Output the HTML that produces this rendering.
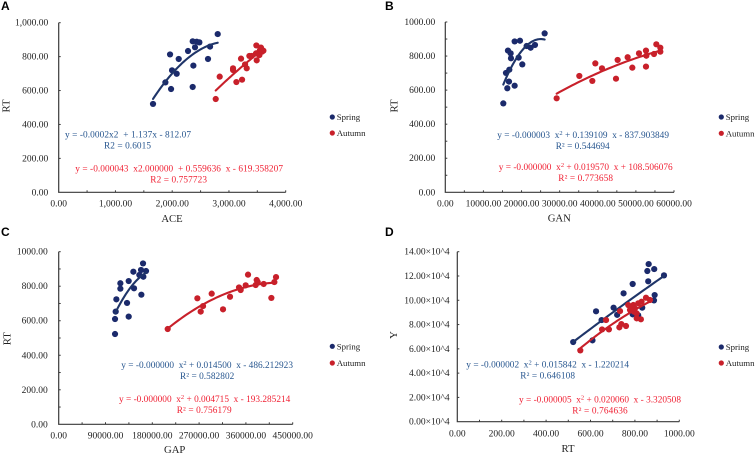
<!DOCTYPE html>
<html lang="en">
<head>
<meta charset="utf-8">
<title>Spring and Autumn RT regression panels</title>
<style>
html,body{margin:0;padding:0;background:#fff;width:755px;height:454px;overflow:hidden}
svg{display:block;filter:blur(0.3px)}
text{font-family:"Liberation Serif",serif;white-space:pre}
.tick{font-size:9.5px;fill:#222}
.title{font-size:10.7px;fill:#222}
.legend{font-size:8.8px;fill:#222}
.blue{font-size:9.3px;fill:#27568f}
.red{font-size:9.3px;fill:#f01f32}
.letter{font-family:"Liberation Sans",sans-serif;font-size:12px;font-weight:bold;fill:#000}
</style>
</head>
<body>
<svg id="figure" width="755" height="454" viewBox="0 0 755 454" xmlns="http://www.w3.org/2000/svg">
<rect width="755" height="454" fill="#fff"/>

<text class="letter" x="1" y="10">A</text>
<text class="letter" x="385" y="10">B</text>
<text class="letter" x="1" y="236">C</text>
<text class="letter" x="385" y="236">D</text>

<text class="title" x="172" y="222" text-anchor="middle">ACE</text>
<text class="title" transform="translate(9.5,106) rotate(-90)" text-anchor="middle">RT</text>
<text class="title" x="559.3" y="221.7" text-anchor="middle">GAN</text>
<text class="title" transform="translate(397.5,106) rotate(-90)" text-anchor="middle">RT</text>
<text class="title" x="174.7" y="453" text-anchor="middle">GAP</text>
<text class="title" transform="translate(10.5,338.7) rotate(-90)" text-anchor="middle">RT</text>
<text class="title" x="568" y="452" text-anchor="middle">RT</text>
<text class="title" transform="translate(397,335) rotate(-90)" text-anchor="middle">Y</text>

<text class="blue" x="65" y="137.3" textLength="126">y = -0.0002x2  + 1.137x - 812.07</text>
<text class="blue" x="104" y="148.3" textLength="47">R2 = 0.6015</text>
<text class="red" x="75.3" y="171.7" textLength="207.7">y = -0.000043  x2.000000  + 0.559636  x - 619.358207</text>
<text class="red" x="150.3" y="182.3" textLength="56.7">R2 = 0.757723</text>

<text class="blue" x="497.3" y="138" textLength="171.7">y = -0.000003  x<tspan dy="-3" font-size="6.5">2</tspan><tspan dy="3"> + 0.139109  x - 837.903849</tspan></text>
<text class="blue" x="555.7" y="149" textLength="54">R² = 0.544694</text>
<text class="red" x="498.7" y="170" textLength="174">y = -0.000000  x<tspan dy="-3" font-size="6.5">2</tspan><tspan dy="3"> + 0.019570  x + 108.506076</tspan></text>
<text class="red" x="558.3" y="181" textLength="54.7">R² = 0.773658</text>

<text class="blue" x="121.3" y="368" textLength="171.7">y = -0.000000  x<tspan dy="-3" font-size="6.5">2</tspan><tspan dy="3"> + 0.014500  x - 486.212923</tspan></text>
<text class="blue" x="180" y="379" textLength="54.3">R² = 0.582802</text>
<text class="red" x="119" y="402" textLength="171.3">y = -0.000000  x<tspan dy="-3" font-size="6.5">2</tspan><tspan dy="3"> + 0.004715  x - 193.285214</tspan></text>
<text class="red" x="176.7" y="413" textLength="55">R² = 0.756179</text>

<text class="blue" x="466.3" y="367.7" textLength="162.7">y = -0.000002  x<tspan dy="-3" font-size="6.5">2</tspan><tspan dy="3"> + 0.015842  x - 1.220214</tspan></text>
<text class="blue" x="520.3" y="378.7" textLength="54.7">R² = 0.646108</text>
<text class="red" x="519" y="402.7" textLength="162">y = -0.000005  x<tspan dy="-3" font-size="6.5">2</tspan><tspan dy="3"> + 0.020060  x - 3.320508</tspan></text>
<text class="red" x="572.3" y="413.7" textLength="55.4">R² = 0.764636</text>

<g>
<circle cx="332.3" cy="117" r="2.6" fill="#1b2a6b"/>
<text class="legend" x="336.7" y="120">Spring</text>
<circle cx="332.3" cy="133" r="2.6" fill="#c8202a"/>
<text class="legend" x="336.7" y="136">Autumn</text>
</g>
<g>
<circle cx="721.3" cy="117" r="2.6" fill="#1b2a6b"/>
<text class="legend" x="725.7" y="120">Spring</text>
<circle cx="721.3" cy="133.3" r="2.6" fill="#c8202a"/>
<text class="legend" x="725.7" y="136.3">Autumn</text>
</g>
<g>
<circle cx="332.3" cy="346.3" r="2.6" fill="#1b2a6b"/>
<text class="legend" x="336.7" y="349.3">Spring</text>
<circle cx="332.3" cy="363" r="2.6" fill="#c8202a"/>
<text class="legend" x="336.7" y="366">Autumn</text>
</g>
<g>
<circle cx="721.3" cy="347" r="2.6" fill="#1b2a6b"/>
<text class="legend" x="725.7" y="350">Spring</text>
<circle cx="721.3" cy="363" r="2.6" fill="#c8202a"/>
<text class="legend" x="725.7" y="366">Autumn</text>
</g>
</svg>

<script>
// Panel A: RT vs ACE
const aceXMajor = [0, 1000, 2000, 3000, 4000];
const aceXLabels = ["0.00", "1,000.00", "2,000.00", "3,000.00", "4,000.00"];
const aceYMajor = [0, 200, 400, 600, 800, 1000];
const aceYLabels = ["0.00", "200.00", "400.00", "600.00", "800.00", "1,000.00"];
const aceSpringX = [1662, 1880, 1962, 1980, 1997, 2079, 2115, 2279, 2361, 2361, 2373, 2402, 2432, 2479, 2631, 2667, 2802];
const aceSpringY = [521, 648, 813, 609, 719, 699, 786, 833, 890, 621, 747, 855, 888, 884, 786, 859, 933];
const aceAutumnX = [2767, 2837, 3072, 3072, 3131, 3213, 3231, 3284, 3313, 3360, 3401, 3483, 3489, 3477, 3519, 3548, 3565, 3583, 3607, 3536];
const aceAutumnY = [550, 682, 731, 721, 650, 788, 664, 754, 731, 804, 804, 866, 778, 819, 823, 839, 853, 829, 835, 809];

// Panel B: RT vs GAN
const ganXMajor = [0, 10000, 20000, 30000, 40000, 50000, 60000];
const ganXLabels = ["0.00", "10000.00", "20000.00", "30000.00", "40000.00", "50000.00", "60000.00"];
const ganYMajor = [0, 200, 400, 600, 800, 1000];
const ganYLabels = ["0.00", "200.00", "400.00", "600.00", "800.00", "1000.00"];
const ganSpringX = [15218, 16268, 18192, 16705, 15918, 16793, 20203, 17230, 19241, 16443, 17143, 18192, 19591, 21340, 22390, 23527, 26063];
const ganSpringY = [522, 611, 626, 650, 701, 720, 751, 787, 791, 832, 816, 886, 890, 859, 849, 865, 933];
const ganAutumnX = [29212, 35159, 38570, 39357, 41106, 44780, 45217, 47841, 49065, 50814, 52651, 52651, 52739, 54750, 55362, 56412, 56412];
const ganAutumnY = [552, 683, 654, 757, 728, 667, 777, 793, 732, 816, 738, 832, 802, 812, 869, 849, 826];

// Panel C: RT vs GAP
const gapXMajor = [0, 90000, 180000, 270000, 360000, 450000];
const gapXLabels = ["0.00", "90000.00", "180000.00", "270000.00", "360000.00", "450000.00"];
const gapYMajor = [0, 200, 400, 600, 800, 1000];
const gapYLabels = ["0.00", "200.00", "400.00", "600.00", "800.00", "1000.00"];
const gapSpringX = [108329, 108329, 134610, 109611, 131405, 110893, 118585, 118585, 144866, 134610, 143584, 158968, 162173, 155122, 158327, 167942, 162814];
const gapSpringY = [523, 610, 624, 653, 703, 724, 786, 817, 788, 830, 884, 751, 932, 865, 894, 888, 855];
const gapAutumnX = [209607, 266656, 273066, 277553, 294219, 316013, 329474, 346781, 349986, 359601, 364088, 378831, 380754, 382677, 394215, 408958, 414727, 417932];
const gapAutumnY = [552, 730, 653, 685, 757, 666, 739, 793, 778, 805, 867, 807, 836, 824, 813, 732, 824, 853];

// Panel D: Y vs RT
const rtXMajor = [0, 200, 400, 600, 800, 1000];
const rtXLabels = ["0.00", "200.00", "400.00", "600.00", "800.00", "1000.00"];
const rtYMajor = [0, 2, 4, 6, 8, 10, 12, 14];
const rtYLabels = ["0.00×10^4", "2.00×10^4", "4.00×10^4", "6.00×10^4", "8.00×10^4", "10.00×10^4", "12.00×10^4", "14.00×10^4"];
const rtSpringX = [522, 609, 625, 650, 704, 720, 749, 790, 790, 833, 815, 856, 862, 860, 887, 889, 886, 931];
const rtSpringY = [6.56, 6.70, 9.09, 8.37, 9.39, 8.80, 10.57, 11.34, 8.84, 9.39, 8.76, 12.41, 12.98, 11.56, 12.57, 10.43, 9.99, 12.05];
const rtAutumnX = [554, 652, 683, 670, 733, 730, 739, 760, 770, 778, 793, 800, 808, 808, 827, 815, 830, 850, 868, 796, 785];
const rtAutumnY = [5.87, 7.60, 7.60, 8.37, 9.11, 7.77, 8.04, 7.88, 9.61, 9.20, 9.61, 9.33, 8.92, 8.51, 8.43, 9.75, 9.88, 10.21, 10.02, 9.06, 9.47];

const SVG_NS = "http://www.w3.org/2000/svg";
const figure = document.getElementById("figure");

function addEl(parent, tag, attrs) {
  const el = document.createElementNS(SVG_NS, tag);
  Object.keys(attrs).forEach(function (k) { el.setAttribute(k, attrs[k]); });
  parent.appendChild(el);
  return el;
}

// Least-squares quadratic through a series, used for the trend curves.
function quadFit(xs, ys) {
  const mx = xs.reduce(function (a, b) { return a + b; }, 0) / xs.length;
  const sx = Math.max.apply(null, xs) - Math.min.apply(null, xs) || 1;
  const u = xs.map(function (x) { return (x - mx) / sx; });
  const S = [0, 0, 0, 0, 0], T = [0, 0, 0];
  u.forEach(function (v, i) {
    for (let p = 0; p < 5; p++) S[p] += Math.pow(v, p);
    for (let p = 0; p < 3; p++) T[p] += Math.pow(v, p) * ys[i];
  });
  const M = [[S[0], S[1], S[2], T[0]], [S[1], S[2], S[3], T[1]], [S[2], S[3], S[4], T[2]]];
  for (let c = 0; c < 3; c++) {
    for (let r = c + 1; r < 3; r++) {
      const f = M[r][c] / M[c][c];
      for (let k = c; k < 4; k++) M[r][k] -= f * M[c][k];
    }
  }
  const b = [0, 0, 0];
  for (let r = 2; r >= 0; r--) {
    let s = M[r][3];
    for (let k = r + 1; k < 3; k++) s -= M[r][k] * b[k];
    b[r] = s / M[r][r];
  }
  return function (x) {
    const v = (x - mx) / sx;
    return b[0] + b[1] * v + b[2] * v * v;
  };
}

function drawPanel(p) {
  const group = addEl(figure, "g", {});
  
  

  const xMax = p.xMajor[p.xMajor.length - 1];
  const yMax = p.yMajor[p.yMajor.length - 1];
  const sx = function (v) { return p.left + (v / xMax) * (p.right - p.left); };
  const sy = function (v) { return p.bottom - (v / yMax) * (p.bottom - p.top); };

  const axes = addEl(group, "path", {
    d: "M" + p.left + " " + p.top + "V" + p.bottom + "H" + p.right,
    fill: "none", stroke: "#3a3a3a", "stroke-width": 1.2
  });
  
  

  const xStep = p.xMajor[1] / p.xDiv;
  for (let v = xStep; v <= xMax + xStep / 10; v += xStep) {
    const t = addEl(group, "line", { x1: sx(v), x2: sx(v), y1: p.bottom, y2: p.bottom - 2, stroke: "#3a3a3a", "stroke-width": 1 });
    
    
  }
  const yStep = p.yMajor[1] / p.yDiv;
  for (let v = yStep; v <= yMax + yStep / 10; v += yStep) {
    const t = addEl(group, "line", { x1: p.left, x2: p.left + 2, y1: sy(v), y2: sy(v), stroke: "#3a3a3a", "stroke-width": 1 });
    
    
  }

  p.xMajor.forEach(function (v, i) {
    const t = addEl(group, "text", { class: "tick", x: sx(v), y: p.xLabelY, "text-anchor": "middle" });
    t.textContent = p.xLabels[i];
    
    
  });
  p.yMajor.forEach(function (v, i) {
    const t = addEl(group, "text", { class: "tick", x: p.yLabelX, y: sy(v) + 3, "text-anchor": "end" });
    t.textContent = p.yLabels[i];
    
    
  });

  p.series.forEach(function (s) {
    s.xs.forEach(function (x, i) {
      const c = addEl(group, "circle", { cx: sx(x), cy: sy(s.ys[i]), r: 3.1, fill: s.dot });
      
      
    });
    const fit = quadFit(s.xs, s.ys);
    const lo = Math.min.apply(null, s.xs), hi = Math.max.apply(null, s.xs);
    let d = "";
    for (let k = 0; k <= 40; k++) {
      const x = lo + (hi - lo) * k / 40;
      d += (k ? "L" : "M") + sx(x).toFixed(2) + " " + sy(fit(x)).toFixed(2);
    }
    const line = addEl(group, "path", { d: d, fill: "none", stroke: s.line, "stroke-width": 2.1, "stroke-linecap": "round" });
    
    
  });
}

const NAVY = "#1b2a6b", NAVY_LINE = "#1f3569", RED = "#c8202a";

drawPanel({
  id: "panel-a", left: 58.7, right: 285.7, top: 22.7, bottom: 192.3,
  xMajor: aceXMajor, xLabels: aceXLabels, yMajor: aceYMajor, yLabels: aceYLabels,
  xDiv: 2, yDiv: 1, xLabelY: 206.7, yLabelX: 48.3,
  series: [
    { name: "spring", xs: aceSpringX, ys: aceSpringY, dot: NAVY, line: NAVY_LINE },
    { name: "autumn", xs: aceAutumnX, ys: aceAutumnY, dot: RED, line: RED }
  ]
});
drawPanel({
  id: "panel-b", left: 445.3, right: 674, top: 22, bottom: 192.3,
  xMajor: ganXMajor, xLabels: ganXLabels, yMajor: ganYMajor, yLabels: ganYLabels,
  xDiv: 2, yDiv: 2, xLabelY: 206.7, yLabelX: 435.3,
  series: [
    { name: "spring", xs: ganSpringX, ys: ganSpringY, dot: NAVY, line: NAVY_LINE },
    { name: "autumn", xs: ganAutumnX, ys: ganAutumnY, dot: RED, line: RED }
  ]
});
drawPanel({
  id: "panel-c", left: 58.7, right: 292.7, top: 251.7, bottom: 424.3,
  xMajor: gapXMajor, xLabels: gapXLabels, yMajor: gapYMajor, yLabels: gapYLabels,
  xDiv: 2, yDiv: 2, xLabelY: 438.7, yLabelX: 47.7,
  series: [
    { name: "spring", xs: gapSpringX, ys: gapSpringY, dot: NAVY, line: NAVY_LINE },
    { name: "autumn", xs: gapAutumnX, ys: gapAutumnY, dot: RED, line: RED }
  ]
});
drawPanel({
  id: "panel-d", left: 457.3, right: 679.3, top: 251.7, bottom: 421.7,
  xMajor: rtXMajor, xLabels: rtXLabels, yMajor: rtYMajor, yLabels: rtYLabels,
  xDiv: 2, yDiv: 1, xLabelY: 436.3, yLabelX: 449.7,
  series: [
    { name: "spring", xs: rtSpringX, ys: rtSpringY, dot: NAVY, line: NAVY_LINE },
    { name: "autumn", xs: rtAutumnX, ys: rtAutumnY, dot: RED, line: RED }
  ]
});
</script>
</body>
</html>
